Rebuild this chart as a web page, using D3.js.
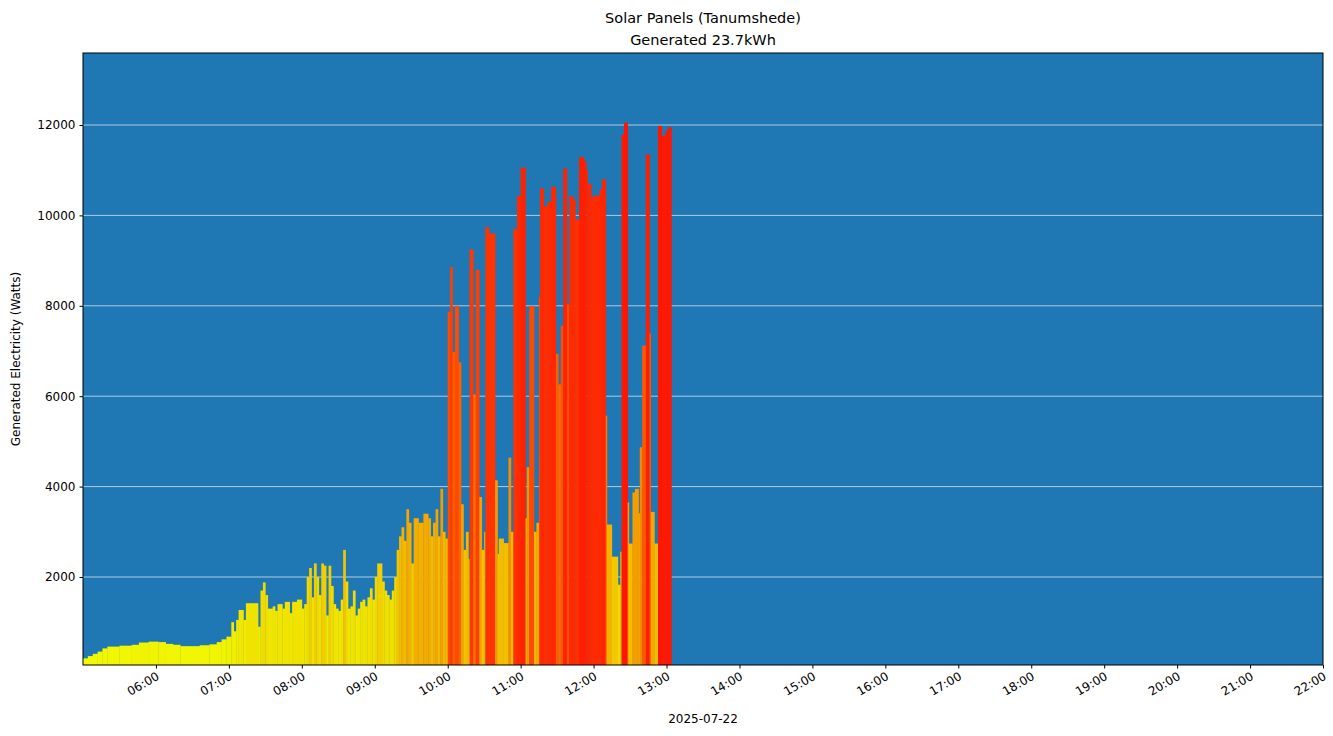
<!DOCTYPE html>
<html><head><meta charset="utf-8">
<script src="https://cdn.jsdelivr.net/npm/d3@7"></script>
<style>body{margin:0;background:#fff}text{font-family:"DejaVu Sans",sans-serif}</style>
</head><body><svg id="c" width="1333" height="736"></svg>
<script>
const times = ["05:00","05:04","05:08","05:12","05:16","05:20","05:30","05:40","05:46","05:54","06:02","06:08","06:14","06:20","06:36","06:44","06:50","06:54","06:58","07:02","07:04","07:06","07:08","07:12","07:14","07:24","07:26","07:28","07:30","07:32","07:36","07:38","07:40","07:44","07:46","07:50","07:52","07:56",
"08:00","08:02","08:04","08:06","08:08","08:10","08:12","08:14","08:16","08:18","08:20","08:22","08:24","08:26","08:28","08:30","08:32","08:34","08:36","08:38","08:40","08:42","08:44","08:46","08:48","08:50","08:52","08:54","08:56","08:58","09:00","09:02","09:06","09:08","09:10","09:12","09:14","09:16","09:18","09:20","09:22","09:24","09:26","09:28","09:30","09:32","09:36","09:40","09:44","09:46","09:48","09:50","09:52","09:54","09:56","09:58",
"10:00","10:02","10:04","10:06","10:09","10:11","10:13","10:15","10:17","10:18","10:21","10:23","10:26","10:28","10:30","10:31","10:34","10:39","10:41","10:42","10:46","10:50","10:52","10:54","10:57","11:00","11:04","11:05","11:07","11:11","11:13","11:15","11:16","11:19","11:22","11:25","11:29","11:31","11:33","11:35","11:38","11:40","11:43","11:45","11:48","11:52","11:54","11:55","11:58","12:00","12:05","12:07","12:10","12:11","12:15","12:20","12:22","12:23","12:25","12:28","12:29","12:32","12:34","12:37","12:38","12:40","12:43","12:46","12:47","12:50","12:53","12:56","12:59","13:01","13:04"];
const watts = [200,250,300,350,420,460,480,500,550,570,560,520,500,470,490,510,560,620,680,1000,800,1050,1270,1050,1420,900,1700,1880,1600,1300,1350,1250,1400,1300,1450,1200,1450,1500,
1300,1400,2000,2200,1550,2300,2000,1600,2300,2250,1150,2250,1800,1400,1300,1250,1500,2600,1900,1300,1350,1700,1150,1300,1450,1500,1350,1550,1750,1500,2000,2300,1900,1700,1600,1500,1700,2000,2600,2900,3100,2800,3500,3200,2300,3300,3200,3400,3300,2900,3200,3500,2900,3950,3000,2850,
7870,8860,6980,8000,6750,3610,2600,3000,2400,9250,6040,8800,3770,2600,3000,9740,9600,4140,2510,2850,2750,4640,3000,9700,10430,11060,3300,4430,8000,3000,3200,8200,10600,10200,10300,10630,6940,6260,7560,11040,8030,10430,10360,9900,11290,11200,11000,10700,10400,10440,10580,10800,5570,3160,2450,1830,2560,11790,12050,3650,2740,3870,3950,3410,4870,7120,11350,7390,3440,2740,11980,11760,11870,11950];
const yTicks = [2000,4000,6000,8000,10000,12000];
const xTickHours = ["06:00","07:00","08:00","09:00","10:00","11:00","12:00","13:00","14:00","15:00","16:00","17:00","18:00","19:00","20:00","21:00","22:00"];
const title1 = "Solar Panels (Tanumshede)", title2 = "Generated 23.7kWh", dateLabel = "2025-07-22";

const pt = s => new Date(`2025-07-22T${s}:00`);
const svg = d3.select("#c");
const L=83,R=1323,T=53,B=665;
const x = d3.scaleTime().domain([pt("05:00"),pt("22:00")]).range([L,R]);
const y = d3.scaleLinear().domain([53,13593]).range([B,T]);
const col = d3.scaleLinear().domain([0,2000,3500,8000,12000]).range(["#f2ff00","#f0d800","#f4a600","#ff4800","#ff1600"]);

svg.append("rect").attr("x",L).attr("y",T).attr("width",R-L).attr("height",B-T).attr("fill","#1f77b4");
yTicks.forEach(v=>svg.append("line").attr("x1",L).attr("x2",R).attr("y1",y(v)).attr("y2",y(v)).attr("stroke","#fff").attr("stroke-opacity",0.8).attr("stroke-width",0.8));
const bars = watts.map((v,i)=>({t0:pt(times[i]),t1:pt(times[i+1]),v}));
svg.append("g").selectAll("rect").data(bars).join("rect")
 .attr("x",d=>x(d.t0)).attr("width",d=>x(d.t1)-x(d.t0)+0.3)
 .attr("y",d=>y(d.v)).attr("height",d=>B-y(d.v)).attr("fill",d=>col(d.v));
svg.append("rect").attr("x",L).attr("y",T).attr("width",R-L).attr("height",B-T).attr("fill","none").attr("stroke","#000").attr("stroke-width",1);

const ya = svg.append("g").attr("transform",`translate(${L},0)`).call(d3.axisLeft(y).tickValues(yTicks).tickFormat(d3.format("d")).tickSize(3.5).tickPadding(4));
const xa = svg.append("g").attr("transform",`translate(0,${B})`).call(d3.axisBottom(x).tickValues(xTickHours.map(pt)).tickFormat(d3.timeFormat("%H:%M")).tickSize(3.5));
[ya,xa].forEach(a=>{a.select(".domain").remove();a.selectAll("text").attr("font-size",12).attr("fill","#000");a.selectAll("line").attr("stroke","#000");});
xa.selectAll("text").attr("text-anchor","end").attr("transform","rotate(-30)").attr("dx","-0.3em").attr("dy","0.6em");

svg.append("text").attr("x",703).attr("y",23).attr("text-anchor","middle").attr("font-size",14.5).text(title1);
svg.append("text").attr("x",703).attr("y",45).attr("text-anchor","middle").attr("font-size",14.5).text(title2);
svg.append("text").attr("x",703).attr("y",723).attr("text-anchor","middle").attr("font-size",12).text(dateLabel);
svg.append("text").attr("transform","translate(20,359) rotate(-90)").attr("text-anchor","middle").attr("font-size",12).text("Generated Electricity (Watts)");
</script></body></html>
